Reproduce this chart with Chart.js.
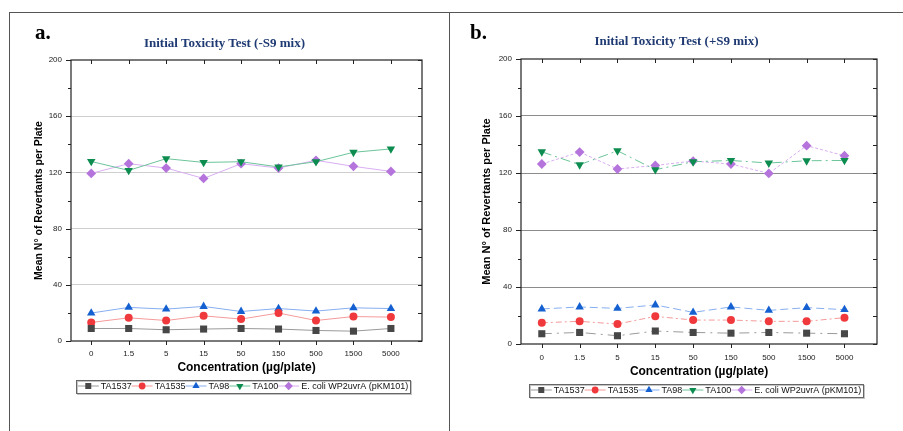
<!DOCTYPE html>
<html>
<head>
<meta charset="utf-8">
<script src="https://cdn.jsdelivr.net/npm/chart.js"></script>
<style>
  body { margin: 0; background: #fff; }
  #wrap { position: relative; width: 903px; height: 431px; background: #fff; overflow: hidden; }
  .line { position: absolute; background: #555; }
  .lab { position: absolute; font: bold 21px "Liberation Serif", "Times New Roman", serif; line-height: 21px; color: #000; }
  .ttl { position: absolute; font: bold 13px "Liberation Serif", "Times New Roman", serif; line-height: 13px; color: #1f3a73; text-align: center; white-space: nowrap; }
  canvas { position: absolute; top: 0; }
</style>
</head>
<body>
<div id="wrap">
  <div class="line" style="left:9px;top:12px;width:894px;height:1px"></div>
  <div class="line" style="left:9px;top:12px;width:1px;height:419px"></div>
  <div class="line" style="left:449px;top:12px;width:1px;height:419px"></div>
  <canvas id="grafA" width="449" height="431" style="left:0;width:449px;height:431px"></canvas>
  <canvas id="grafB" width="453" height="431" style="left:450px;width:453px;height:431px"></canvas>
  <div class="lab" style="left:35px;top:22px">a.</div>
  <div class="lab" style="left:470px;top:22px">b.</div>
  <div class="ttl" style="left:0;top:36px;width:449px">Initial Toxicity Test (-S9 mix)</div>
  <div class="ttl" style="left:450px;top:34px;width:453px">Initial Toxicity Test (+S9 mix)</div>
</div>
<script>
// categorias y marcas del eje
const concentraciones = ['0', '1.5', '5', '15', '50', '150', '500', '1500', '5000'];
const ticksY = [0, 40, 80, 120, 160, 200];
const ticksYMenores = [20, 60, 100, 140, 180];
const cepas = ['TA1537', 'TA1535', 'TA98', 'TA100', 'E. coli WP2uvrA (pKM101)'];

// a. sin S9
const ta1537SinS9 = [8.9, 8.9, 8.0, 8.5, 8.9, 8.5, 7.5, 7.0, 8.9];
const ta1535SinS9 = [13.2, 16.5, 14.6, 17.9, 15.6, 19.9, 14.6, 17.4, 17.0];
const ta98SinS9   = [19.9, 23.9, 22.7, 24.6, 21.0, 23.1, 21.3, 23.6, 23.1];
const ta100SinS9  = [127.8, 121.4, 129.8, 127.1, 127.6, 123.9, 127.6, 134.3, 136.7];
const ecoliSinS9  = [119.3, 126.2, 123.1, 115.7, 126.2, 123.1, 128.6, 124.3, 120.7];

// b. con S9
const ta1537ConS9 = [7.2, 8.1, 5.8, 9.1, 8.1, 7.6, 8.1, 7.6, 7.2];
const ta1535ConS9 = [14.9, 15.9, 14.0, 19.4, 16.8, 16.8, 15.9, 15.9, 18.5];
const ta98ConS9   = [24.6, 26.0, 25.0, 27.4, 22.2, 26.0, 23.6, 25.5, 24.1];
const ta100ConS9  = [134.9, 125.8, 135.6, 122.3, 127.9, 128.8, 127.0, 128.6, 128.8];
const ecoliConS9  = [126.3, 134.7, 122.8, 125.3, 128.4, 126.3, 119.7, 139.2, 132.1];

const fuente = 'Arial, "Liberation Sans", sans-serif';

// estilo de cada cepa (marcador, color de linea)
const estilos = [
  { punto: 'rect',     rot: 0,   radio: 5.0, color: '#474747', linea: '#9a9a9a', guion: [10, 5, 2, 5] },
  { punto: 'circle',   rot: 0,   radio: 4.0, color: '#f0393c', linea: '#f59a9a', guion: [6, 3, 2, 3] },
  { punto: 'triangle', rot: 0,   radio: 4.9, color: '#1560d0', linea: '#86aef0', guion: [8, 4] },
  { punto: 'triangle', rot: 180, radio: 4.9, color: '#0d8c4f', linea: '#6cc49a', guion: [10, 4, 2, 4] },
  { punto: 'rectRot',  rot: 0,   radio: 4.9, color: '#b474dc', linea: '#d9aef2', guion: [3, 2] }
];

// marco del area y marcas de los ejes
const marcoEjes = {
  id: 'marcoEjes',
  beforeDatasetsDraw(chart) {
    const { ctx, chartArea: a, scales: { x, y } } = chart;
    ctx.save();
    ctx.strokeStyle = '#222';
    ctx.lineWidth = 1.2;
    ctx.strokeRect(a.left, a.top, a.right - a.left, a.bottom - a.top);
    ctx.lineWidth = 1;
    ctx.beginPath();
    ticksY.concat(ticksYMenores).forEach(v => {
      const py = Math.round(y.getPixelForValue(v)) + 0.5;
      const largo = ticksY.includes(v) ? 5 : 3;
      ctx.moveTo(a.left - largo, py); ctx.lineTo(a.left, py);
      ctx.moveTo(a.right, py); ctx.lineTo(a.right - 4, py);
    });
    concentraciones.forEach((c, i) => {
      const px = Math.round(x.getPixelForValue(i)) + 0.5;
      ctx.moveTo(px, a.bottom); ctx.lineTo(px, a.bottom + 4);
      ctx.moveTo(px, a.top); ctx.lineTo(px, a.top + 4);
    });
    ctx.stroke();
    ctx.restore();
  }
};

// leyenda en caja con linea + marcador
const leyendaCaja = {
  id: 'leyendaCaja',
  afterDraw(chart, args, opts) {
    const ctx = chart.ctx;
    ctx.save();
    ctx.font = '9px ' + fuente;
    const seg = 21, sep = 2, pad = 2;
    const items = chart.data.datasets.map(ds => ({ ds, w: seg + sep + ctx.measureText(ds.label).width }));
    const total = items.reduce((s, it) => s + it.w, 0) + pad * 2;
    let x = opts.cx - total / 2;
    const y = opts.cy, h = 13;
    ctx.strokeStyle = '#c4c4c4';
    ctx.strokeRect(Math.round(x) + 1.5, Math.round(y - h / 2) + 1.5, Math.round(total), h);
    ctx.strokeStyle = '#666';
    ctx.strokeRect(Math.round(x) + 0.5, Math.round(y - h / 2) + 0.5, Math.round(total), h);
    x += pad;
    items.forEach(it => {
      const ds = it.ds;
      ctx.strokeStyle = ds.borderColor;
      ctx.lineWidth = 1;
      ctx.beginPath(); ctx.moveTo(x, y); ctx.lineTo(x + seg, y); ctx.stroke();
      ctx.fillStyle = ds.pointBackgroundColor;
      Chart.helpers.drawPoint(ctx, { pointStyle: ds.pointStyle, rotation: ds.pointRotation, radius: ds.pointRadius * 0.85, borderWidth: 0 }, x + seg / 2, y);
      ctx.fillStyle = '#111';
      ctx.textBaseline = 'middle';
      ctx.textAlign = 'left';
      ctx.fillText(ds.label, x + seg + sep, y + 0.5);
      x += it.w;
    });
    ctx.restore();
  }
};

function dibujarGrafica(id, series, cfg) {
  const datasets = series.map((valores, k) => {
    const e = estilos[k];
    return {
      label: cepas[k],
      data: valores.map((v, i) => ({ x: i, y: v })),
      borderColor: e.linea,
      borderWidth: 1,
      borderDash: cfg.discontinua ? e.guion : [],
      pointStyle: e.punto,
      pointRotation: e.rot,
      pointRadius: e.radio,
      pointBackgroundColor: e.color,
      pointBorderColor: e.color,
      pointBorderWidth: 0,
      tension: 0
    };
  });

  new Chart(document.getElementById(id).getContext('2d'), {
    type: 'line',
    data: { datasets },
    options: {
      responsive: false,
      animation: false,
      devicePixelRatio: 1,
      layout: { padding: { left: 0, top: cfg.arriba, right: cfg.derecha, bottom: cfg.abajo } },
      plugins: {
        legend: { display: false },
        title: { display: false },
        tooltip: { enabled: false },
        leyendaCaja: { cx: cfg.leyX, cy: cfg.leyY }
      },
      scales: {
        x: {
          type: 'linear',
          min: cfg.xMin,
          max: cfg.xMax,
          afterBuildTicks: s => { s.ticks = concentraciones.map((c, i) => ({ value: i })); },
          afterFit: s => { s.height = 40; s.paddingLeft = 0; s.paddingRight = 0; },
          grid: { display: false, drawTicks: false },
          border: { display: false },
          ticks: {
            autoSkip: false,
            maxRotation: 0,
            padding: cfg.padTickX,
            color: '#222',
            font: { family: fuente, size: 8 },
            callback: v => concentraciones[v]
          },
          title: {
            display: true,
            text: 'Concentration (µg/plate)',
            color: '#000',
            font: { family: fuente, size: 12, weight: 'bold' },
            padding: { top: 0, bottom: cfg.padTituloX }
          }
        },
        y: {
          min: 0,
          max: 200,
          afterFit: s => { s.width = 71; s.paddingTop = 0; s.paddingBottom = 0; },
          grid: {
            drawTicks: false,
            lineWidth: 1,
            color: c => (c.tick && (c.tick.value === 0 || c.tick.value === 200)) ? 'rgba(0,0,0,0)' : cfg.rejilla
          },
          border: { display: false },
          ticks: {
            stepSize: 40,
            padding: 9,
            color: '#222',
            font: { family: fuente, size: 8 }
          },
          title: {
            display: true,
            text: 'Mean N° of Revertants per Plate',
            color: '#000',
            font: { family: fuente, size: cfg.tamTituloY, weight: 'bold' },
            padding: { top: cfg.padTituloY, bottom: 0 }
          }
        }
      }
    },
    plugins: [marcoEjes, leyendaCaja]
  });
}

dibujarGrafica('grafA', [ta1537SinS9, ta1535SinS9, ta98SinS9, ta100SinS9, ecoliSinS9], {
  discontinua: false, arriba: 60, derecha: 27, abajo: 50,
  xMin: -0.54, xMax: 8.83, padTickX: 8, padTituloX: 6,
  rejilla: '#cfcfcf', tamTituloY: 10.5, padTituloY: 33,
  leyX: 243, leyY: 386
});

dibujarGrafica('grafB', [ta1537ConS9, ta1535ConS9, ta98ConS9, ta100ConS9, ecoliConS9], {
  discontinua: true, arriba: 59, derecha: 26, abajo: 47,
  xMin: -0.55, xMax: 8.86, padTickX: 9, padTituloX: 5,
  rejilla: '#8c8c8c', tamTituloY: 11, padTituloY: 30,
  leyX: 246, leyY: 390
});
</script>
</body>
</html>
